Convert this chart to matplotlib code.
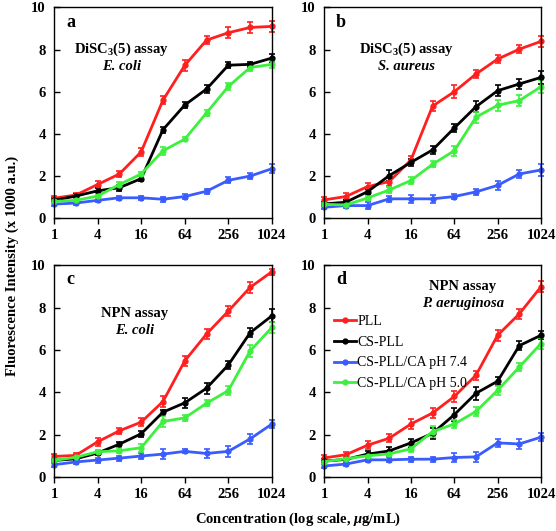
import matplotlib
matplotlib.use("Agg")
import matplotlib.pyplot as plt
from matplotlib.lines import Line2D
from matplotlib.ticker import FixedLocator, NullLocator

plt.rcParams['font.family'] = ['Liberation Serif', 'DejaVu Serif']
plt.rcParams['mathtext.fontset'] = 'custom'
plt.rcParams['mathtext.rm'] = 'Liberation Serif:bold'
plt.rcParams['mathtext.it'] = 'Liberation Serif:italic:bold'
plt.rcParams['mathtext.bf'] = 'Liberation Serif:bold'

conc = [1, 2, 4, 8, 16, 32, 64, 128, 256, 512, 1024]
series = ['PLL', 'CS-PLL', 'CS-PLL/CA pH 7.4', 'CS-PLL/CA pH 5.0']
colors = ['#ff1f1f', '#000000', '#3a5cff', '#3ef03e']

# panel a: DiSC3(5), E. coli
a_pll = [0.95, 1.1, 1.6, 2.1, 3.15, 5.6, 7.25, 8.45, 8.8, 9.05, 9.1]
a_cs = [0.85, 1.05, 1.3, 1.45, 1.88, 4.2, 5.37, 6.13, 7.26, 7.3, 7.6]
a_74 = [0.67, 0.72, 0.85, 0.97, 0.97, 0.9, 1.03, 1.28, 1.8, 2.0, 2.35]
a_50 = [0.8, 0.85, 1.05, 1.6, 2.1, 3.2, 3.75, 5.0, 6.25, 7.15, 7.3]
a_err = [[0.12, 0.12, 0.15, 0.15, 0.2, 0.2, 0.25, 0.2, 0.25, 0.25, 0.25],
         [0.1, 0.12, 0.12, 0.15, 0.12, 0.15, 0.15, 0.2, 0.15, 0.12, 0.18],
         [0.08, 0.1, 0.1, 0.1, 0.1, 0.12, 0.12, 0.12, 0.15, 0.15, 0.2],
         [0.08, 0.08, 0.1, 0.1, 0.1, 0.18, 0.1, 0.15, 0.15, 0.18, 0.15]]

# panel b: DiSC3(5), S. aureus
b_pll = [0.87, 1.03, 1.5, 1.74, 2.76, 5.32, 6.0, 6.84, 7.55, 8.02, 8.39]
b_cs = [0.68, 0.76, 1.26, 2.02, 2.65, 3.24, 4.28, 5.29, 6.05, 6.37, 6.68]
b_74 = [0.52, 0.6, 0.6, 0.92, 0.92, 0.92, 1.03, 1.25, 1.56, 2.1, 2.29]
b_50 = [0.66, 0.63, 0.96, 1.34, 1.79, 2.56, 3.2, 4.79, 5.36, 5.58, 6.24]
b_err = [[0.15, 0.15, 0.18, 0.2, 0.2, 0.25, 0.3, 0.2, 0.2, 0.2, 0.25],
         [0.1, 0.1, 0.12, 0.25, 0.15, 0.18, 0.2, 0.25, 0.25, 0.22, 0.3],
         [0.1, 0.12, 0.18, 0.15, 0.18, 0.2, 0.1, 0.15, 0.2, 0.2, 0.3],
         [0.08, 0.08, 0.1, 0.12, 0.15, 0.15, 0.25, 0.25, 0.25, 0.25, 0.3]]

# panel c: NPN, E. coli
c_pll = [0.97, 1.02, 1.66, 2.18, 2.59, 3.56, 5.48, 6.75, 7.83, 8.95, 9.69]
c_cs = [0.78, 0.86, 1.13, 1.55, 2.04, 3.06, 3.5, 4.19, 5.29, 6.81, 7.61]
c_74 = [0.58, 0.71, 0.8, 0.89, 0.99, 1.08, 1.21, 1.11, 1.21, 1.8, 2.5]
c_50 = [0.78, 0.93, 1.19, 1.24, 1.38, 2.62, 2.79, 3.48, 4.08, 5.95, 7.06]
c_err = [[0.12, 0.1, 0.18, 0.15, 0.2, 0.25, 0.25, 0.25, 0.25, 0.25, 0.15],
         [0.08, 0.1, 0.1, 0.12, 0.15, 0.12, 0.25, 0.25, 0.2, 0.22, 0.3],
         [0.1, 0.1, 0.12, 0.12, 0.12, 0.22, 0.1, 0.22, 0.25, 0.25, 0.18],
         [0.08, 0.1, 0.1, 0.12, 0.2, 0.25, 0.15, 0.15, 0.22, 0.3, 0.25]]

# panel d: NPN, P. aeruginosa
d_pll = [0.9, 1.05, 1.5, 1.83, 2.5, 3.02, 3.8, 4.8, 6.69, 7.7, 8.98]
d_cs = [0.75, 0.83, 1.08, 1.23, 1.61, 2.06, 2.94, 3.95, 4.52, 6.2, 6.69]
d_74 = [0.52, 0.61, 0.81, 0.81, 0.84, 0.84, 0.92, 0.95, 1.61, 1.56, 1.88]
d_50 = [0.73, 0.86, 1.0, 1.09, 1.33, 2.14, 2.5, 3.09, 4.09, 5.19, 6.3]
d_err = [[0.12, 0.12, 0.18, 0.2, 0.25, 0.25, 0.28, 0.2, 0.25, 0.25, 0.25],
         [0.1, 0.1, 0.15, 0.2, 0.18, 0.25, 0.3, 0.3, 0.2, 0.2, 0.18],
         [0.1, 0.1, 0.1, 0.12, 0.12, 0.12, 0.2, 0.25, 0.2, 0.22, 0.2],
         [0.08, 0.1, 0.1, 0.12, 0.15, 0.25, 0.2, 0.22, 0.2, 0.2, 0.25]]

panels = [
    ('a', [a_pll, a_cs, a_74, a_50], a_err, 'DiSC$_3$(5) assay', 'E. coli', 0.31, 0.80, 0.72),
    ('b', [b_pll, b_cs, b_74, b_50], b_err, 'DiSC$_3$(5) assay', 'S. aureus', 0.38, 0.80, 0.72),
    ('c', [c_pll, c_cs, c_74, c_50], c_err, 'NPN assay', 'E. coli', 0.37, 0.77, 0.69),
    ('d', [d_pll, d_cs, d_74, d_50], d_err, 'NPN assay', 'P. aeruginosa', 0.64, 0.90, 0.82),
]

fig = plt.figure(figsize=(5.56, 5.31), dpi=100)
rects = [[0.0971, 0.589, 0.392, 0.397], [0.583, 0.589, 0.390, 0.397],
         [0.0971, 0.1017, 0.392, 0.399], [0.583, 0.1017, 0.390, 0.399]]

for rect, (letter, ys, errs, title, species, tx, ty1, ty2) in zip(rects, panels):
    ax = fig.add_axes(rect)
    for y, e, c in zip(ys, errs, colors):
        ax.errorbar(conc, y, yerr=e, color=c, lw=2, marker='o', ms=3.5,
                    capsize=2.5, elinewidth=1.2, capthick=1.2, clip_on=False)
    ax.set_xscale('log', base=2)
    ax.set_xlim(1, 1024)
    ax.set_ylim(0, 10)
    ax.xaxis.set_major_locator(FixedLocator([1, 4, 16, 64, 256, 1024]))
    ax.xaxis.set_minor_locator(NullLocator())
    ax.set_xticklabels(['1', '4', '16', '64', '256', '1024'])
    ax.set_yticks([0, 2, 4, 6, 8, 10])
    ax.tick_params(axis='x', direction='out', length=4, width=1, pad=4)
    ax.tick_params(axis='y', direction='in', length=4, width=1, pad=6)
    for lbl in ax.get_xticklabels() + ax.get_yticklabels():
        lbl.set_fontweight('bold')
        lbl.set_fontsize(10.5)
    for sp in ax.spines.values():
        sp.set_linewidth(1)
    ax.text(0.055, 0.93, letter, transform=ax.transAxes, fontsize=13,
            fontweight='bold', ha='left', va='center')
    ax.text(tx, ty1, title, transform=ax.transAxes, fontsize=10.5,
            fontweight='bold', ha='center', va='center')
    ax.text(tx, ty2, species, transform=ax.transAxes, fontsize=10.5,
            fontweight='bold', style='italic', ha='center', va='center')
    if letter == 'd':
        handles = [Line2D([], [], color=c, lw=2, marker='o', ms=3.5) for c in colors]
        ax.legend(handles, series, loc='upper left', bbox_to_anchor=(0.0, 0.81),
                  frameon=False, fontsize=10, handlelength=1.6,
                  handletextpad=0.1, labelspacing=0.55, borderaxespad=0.3)

fig.text(0.022, 0.5, 'Fluorescence Intensity (x 1000 a.u.)', rotation=90,
         fontsize=10.5, fontweight='bold', ha='center', va='center')
fig.text(0.536, 0.022, 'Concentration (log scale, $\\mu$g/mL)', fontsize=10.5,
         fontweight='bold', ha='center', va='center')

fig.savefig('out.png', dpi=100)
